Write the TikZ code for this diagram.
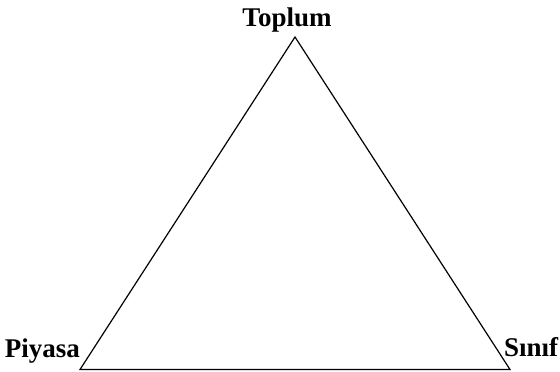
\documentclass[tikz,border=0pt]{standalone}
\usepackage{fontspec}
\setmainfont{Liberation Serif}
\begin{document}
\begin{tikzpicture}[x=1pt,y=-1pt,
  lbl/.style={font=\bfseries\fontsize{27}{30}\selectfont, inner sep=0pt}]
\useasboundingbox (0,0) rectangle (560,372);
\coordinate (T) at (295,37);
\coordinate (L) at (80,369.5);
\coordinate (R) at (510,369.5);
\draw[line width=1.2pt, line join=miter] (T) -- (L) -- (R) -- cycle;
\node[lbl, anchor=base] (top) at (287,27) {Toplum};
\node[lbl, anchor=base east] (left) at (80,357) {Piyasa};
\node[lbl, anchor=base west] (right) at (504,356) {Sınıf};
\end{tikzpicture}
\end{document}
